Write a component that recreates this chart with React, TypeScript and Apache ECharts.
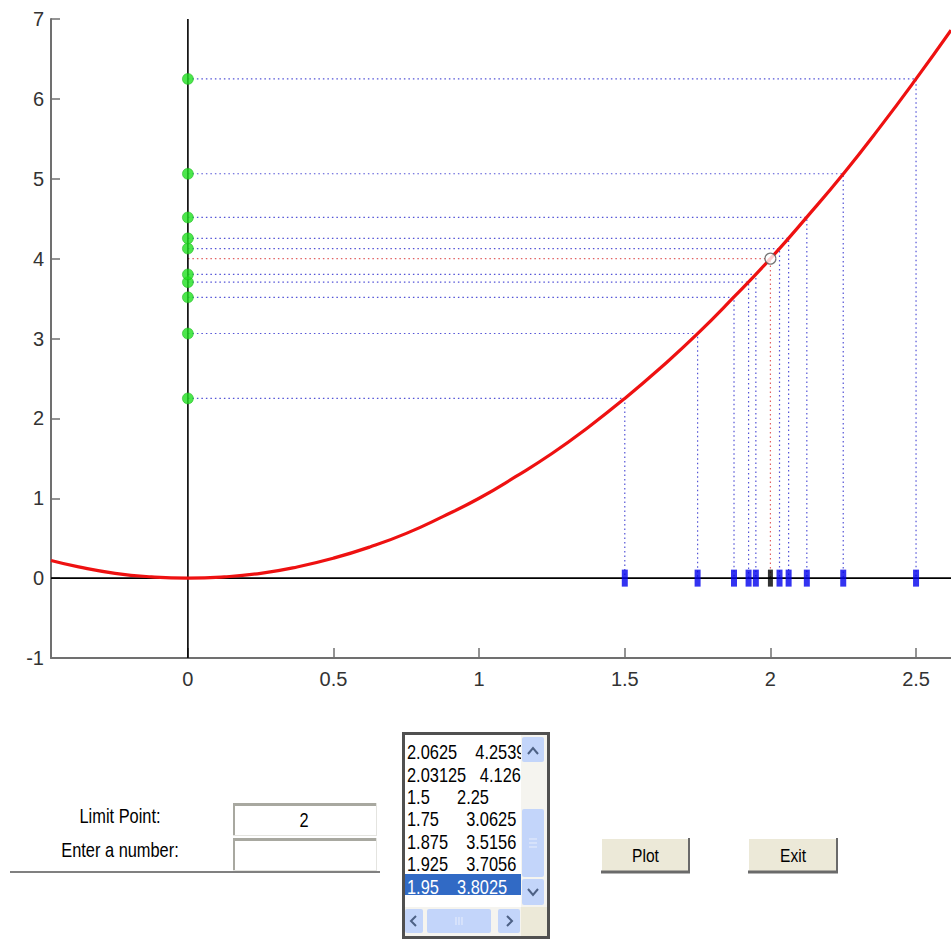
import React, { useEffect, useRef } from "react";
import * as echarts from "echarts";

// ---- data ----
const curveX = [-0.47, -0.375, -0.25, -0.125, 0, 0.125, 0.25, 0.375, 0.5, 0.625, 0.75, 0.875, 1, 1.125, 1.25, 1.375, 1.5, 1.625, 1.75, 1.875, 2, 2.125, 2.25, 2.375, 2.5, 2.62];
const curveY = [0.22, 0.14, 0.06, 0.016, 0, 0.016, 0.06, 0.14, 0.25, 0.39, 0.56, 0.77, 1, 1.27, 1.56, 1.89, 2.25, 2.64, 3.06, 3.52, 4, 4.52, 5.06, 5.64, 6.25, 6.86];
const seqX = [1.5, 1.75, 1.875, 1.925, 1.95, 2.03125, 2.0625, 2.125, 2.25, 2.5];
const seqY = [2.25, 3.0625, 3.5156, 3.7056, 3.8025, 4.126, 4.2539, 4.5156, 5.0625, 6.25];
const limitPoint = [2, 4];
const xTicks = [0, 0.5, 1, 1.5, 2, 2.5];
const xRange = [-0.47, 2.62];
const yRange = [-1, 7];
const fieldLabels = ["Limit Point:", "Enter a number:"];
const fieldValues = ["2", ""];
const listRows = [
  "2.0625    4.2539",
  "2.03125   4.126",
  "1.5      2.25",
  "1.75      3.0625",
  "1.875    3.5156",
  "1.925    3.7056",
  "1.95    3.8025",
];
const selectedRow = 6;
const buttonLabels = ["Plot", "Exit"];

const UIFONT = "'Liberation Sans', Arial, sans-serif";
const NARROW_SCALE = 0.82;

function uiText(text: string, x: number, y: number, z: number, fill: string, size: number, align: string) {
  return {
    type: "text",
    x,
    y,
    z,
    scaleX: NARROW_SCALE,
    style: { text, fill, font: `${size}px ${UIFONT}`, align, verticalAlign: "middle" },
  };
}

function buildGraphic() {
  const g: any[] = [];
  const Z = 100;
  // labels
  fieldLabels.forEach((t, i) => g.push(uiText(t, 120, 816 + i * 34, Z, "#000", 20, "center")));
  // text boxes
  fieldValues.forEach((v, i) => {
    const y0 = 803 + i * 35;
    g.push({ type: "rect", z: Z, shape: { x: 233, y: y0, width: 144, height: 33 }, style: { fill: "#fff" } });
    g.push({ type: "line", z: Z + 1, shape: { x1: 233, y1: y0 + 1.5, x2: 377, y2: y0 + 1.5 }, style: { stroke: "#a8a8a0", lineWidth: 3 } });
    g.push({ type: "line", z: Z + 1, shape: { x1: 234, y1: y0, x2: 234, y2: y0 + 33 }, style: { stroke: "#a8a8a0", lineWidth: 2 } });
    g.push({ type: "line", z: Z + 1, shape: { x1: 233, y1: y0 + 32.5, x2: 377, y2: y0 + 32.5 }, style: { stroke: "#e4e4e0", lineWidth: 1 } });
    g.push({ type: "line", z: Z + 1, shape: { x1: 376.5, y1: y0, x2: 376.5, y2: y0 + 33 }, style: { stroke: "#e4e4e0", lineWidth: 1 } });
    if (v) g.push(uiText(v, 304, y0 + 17, Z + 2, "#000", 20, "center"));
  });
  g.push({ type: "line", z: Z, shape: { x1: 10, y1: 872, x2: 380, y2: 872 }, style: { stroke: "#808080", lineWidth: 2 } });

  // listbox
  g.push({ type: "rect", z: Z, shape: { x: 403.5, y: 733.5, width: 145, height: 204 }, style: { fill: "#fff", stroke: "#505050", lineWidth: 3 } });
  g.push({ type: "rect", z: Z + 1, shape: { x: 405, y: 874, width: 116, height: 21 }, style: { fill: "#316ac5" } });
  listRows.forEach((t, i) => g.push(uiText(t, 407, 752 + i * 22.4, Z + 2, i === selectedRow ? "#fff" : "#000", 20, "left")));
  const sb = "#c3d5fa";
  const arrow = "#4d6185";
  // vertical scrollbar
  g.push({ type: "rect", z: Z + 5, shape: { x: 521, y: 735, width: 26, height: 172 }, style: { fill: "#f5f4ef" } });
  g.push({ type: "rect", z: Z + 6, shape: { x: 522, y: 737, width: 22, height: 25, r: 2 }, style: { fill: sb } });
  g.push({ type: "rect", z: Z + 6, shape: { x: 522, y: 809, width: 22, height: 68, r: 2 }, style: { fill: sb } });
  g.push({ type: "rect", z: Z + 6, shape: { x: 522, y: 879, width: 22, height: 26, r: 2 }, style: { fill: sb } });
  g.push({ type: "polyline", z: Z + 7, shape: { points: [[528, 754], [533, 748], [538, 754]] }, style: { stroke: arrow, lineWidth: 2, fill: null } });
  g.push({ type: "polyline", z: Z + 7, shape: { points: [[528, 889], [533, 895], [538, 889]] }, style: { stroke: arrow, lineWidth: 2, fill: null } });
  [839, 843, 847].forEach((yy) => g.push({ type: "line", z: Z + 7, shape: { x1: 529, y1: yy, x2: 537, y2: yy }, style: { stroke: "#e8eefc", lineWidth: 1 } }));
  // horizontal scrollbar
  g.push({ type: "rect", z: Z + 5, shape: { x: 405, y: 907, width: 141, height: 29 }, style: { fill: "#f5f4ef" } });
  g.push({ type: "rect", z: Z + 6, shape: { x: 521, y: 907, width: 26, height: 29 }, style: { fill: "#ece9d8" } });
  g.push({ type: "rect", z: Z + 6, shape: { x: 405, y: 909, width: 18, height: 24, r: 2 }, style: { fill: sb } });
  g.push({ type: "rect", z: Z + 6, shape: { x: 427, y: 909, width: 64, height: 24, r: 2 }, style: { fill: sb } });
  g.push({ type: "rect", z: Z + 6, shape: { x: 498, y: 909, width: 22, height: 24, r: 2 }, style: { fill: sb } });
  g.push({ type: "polyline", z: Z + 7, shape: { points: [[416, 916], [411, 921], [416, 926]] }, style: { stroke: arrow, lineWidth: 2, fill: null } });
  g.push({ type: "polyline", z: Z + 7, shape: { points: [[507, 916], [512, 921], [507, 926]] }, style: { stroke: arrow, lineWidth: 2, fill: null } });
  [456, 459, 462].forEach((xx) => g.push({ type: "line", z: Z + 7, shape: { x1: xx, y1: 917, x2: xx, y2: 925 }, style: { stroke: "#e8eefc", lineWidth: 1 } }));
  // border on top
  g.push({ type: "rect", z: Z + 8, shape: { x: 403.5, y: 733.5, width: 145, height: 204 }, style: { fill: null, stroke: "#505050", lineWidth: 3 } });

  // buttons
  buttonLabels.forEach((t, i) => {
    const x0 = i === 0 ? 601 : 748;
    const w = i === 0 ? 89 : 90;
    g.push({ type: "rect", z: Z, shape: { x: x0, y: 838, width: w, height: 34 }, style: { fill: "#ece9d8" } });
    g.push({ type: "line", z: Z + 1, shape: { x1: x0, y1: 838.5, x2: x0 + w, y2: 838.5 }, style: { stroke: "#fff", lineWidth: 1 } });
    g.push({ type: "line", z: Z + 1, shape: { x1: x0 + 0.5, y1: 838, x2: x0 + 0.5, y2: 872 }, style: { stroke: "#fff", lineWidth: 1 } });
    g.push({ type: "line", z: Z + 1, shape: { x1: x0 + w - 1, y1: 838, x2: x0 + w - 1, y2: 873 }, style: { stroke: "#6a6a6a", lineWidth: 2 } });
    g.push({ type: "line", z: Z + 1, shape: { x1: x0, y1: 872, x2: x0 + w, y2: 872 }, style: { stroke: "#6a6a6a", lineWidth: 3 } });
    g.push(uiText(t, x0 + w / 2, 855, Z + 2, "#000", 19, "center"));
  });
  return g;
}

export default function App() {
  const ref = useRef<HTMLDivElement>(null);
  useEffect(() => {
    if (!ref.current) return;
    const chart = echarts.init(ref.current, undefined, { renderer: "svg" });
    const tickFont = { fontSize: 20, color: "#333", fontFamily: "'Liberation Sans', Arial, sans-serif" };
    chart.setOption({
      animation: false,
      backgroundColor: "#fff",
      grid: { left: 51, right: 0, top: 19, bottom: 281, containLabel: false, outerBoundsMode: "none" },
      xAxis: {
        type: "value",
        min: xRange[0],
        max: xRange[1],
        axisLine: { show: true, onZero: false, lineStyle: { color: "#707070", width: 2 } },
        axisTick: { show: true, inside: true, length: 10, customValues: xTicks, lineStyle: { color: "#707070", width: 1.5 } },
        axisLabel: { ...tickFont, margin: 11, customValues: xTicks, formatter: (v: number) => String(v) },
        splitLine: { show: false },
      },
      yAxis: {
        type: "value",
        min: yRange[0],
        max: yRange[1],
        interval: 1,
        axisLine: { show: true, onZero: false, lineStyle: { color: "#707070", width: 2 } },
        axisTick: { show: true, inside: true, length: 9, lineStyle: { color: "#707070", width: 1.5 } },
        axisLabel: { ...tickFont, margin: 7 },
        splitLine: { show: false },
      },
      series: [
        {
          type: "lines",
          coordinateSystem: "cartesian2d",
          polyline: true,
          silent: true,
          z: 1,
          lineStyle: { color: "#3535d0", width: 1.2, type: [1.5, 3], opacity: 0.85 },
          data: seqX.map((x, i) => ({ coords: [[0, seqY[i]], [x, seqY[i]], [x, 0]] })),
        },
        {
          type: "lines",
          coordinateSystem: "cartesian2d",
          polyline: true,
          silent: true,
          z: 1,
          lineStyle: { color: "#e05050", width: 1.2, type: [1.5, 3], opacity: 0.9 },
          data: [{ coords: [[0, limitPoint[1]], [limitPoint[0], limitPoint[1]], [limitPoint[0], 0]] }],
        },
        {
          type: "line",
          silent: true,
          z: 2,
          symbol: "none",
          lineStyle: { color: "#000", width: 1.6 },
          data: [[xRange[0], 0], [xRange[1], 0]],
        },
        {
          type: "line",
          silent: true,
          z: 2,
          symbol: "none",
          lineStyle: { color: "#000", width: 1.6 },
          data: [[0, yRange[0]], [0, yRange[1]]],
        },
        {
          type: "line",
          silent: true,
          z: 3,
          symbol: "none",
          smooth: true,
          lineStyle: { color: "#ee1111", width: 3.2 },
          data: curveX.map((x, i) => [x, curveY[i]]),
        },
        {
          type: "scatter",
          silent: true,
          z: 4,
          symbol: "rect",
          symbolSize: [6, 17],
          itemStyle: { color: "#0000ee" },
          data: seqX.map((x) => [x, 0]),
        },
        {
          type: "scatter",
          silent: true,
          z: 5,
          symbol: "rect",
          symbolSize: [5, 17],
          itemStyle: { color: "#000" },
          data: [[limitPoint[0], 0]],
        },
        {
          type: "scatter",
          silent: true,
          z: 5,
          symbol: "circle",
          symbolSize: 11,
          itemStyle: { color: "#1fe01f", borderColor: "#15b015", borderWidth: 0.6 },
          data: seqY.map((y) => [0, y]),
        },
        {
          type: "scatter",
          silent: true,
          z: 6,
          symbol: "circle",
          symbolSize: 11,
          itemStyle: { color: "#fff", borderColor: "#555", borderWidth: 1.2 },
          data: [limitPoint],
        },
      ],
      graphic: buildGraphic(),
    });
    return () => chart.dispose();
  }, []);
  return <div ref={ref} style={{ position: "fixed", left: 0, top: 0, width: 951, height: 939, background: "#fff" }} />;
}
